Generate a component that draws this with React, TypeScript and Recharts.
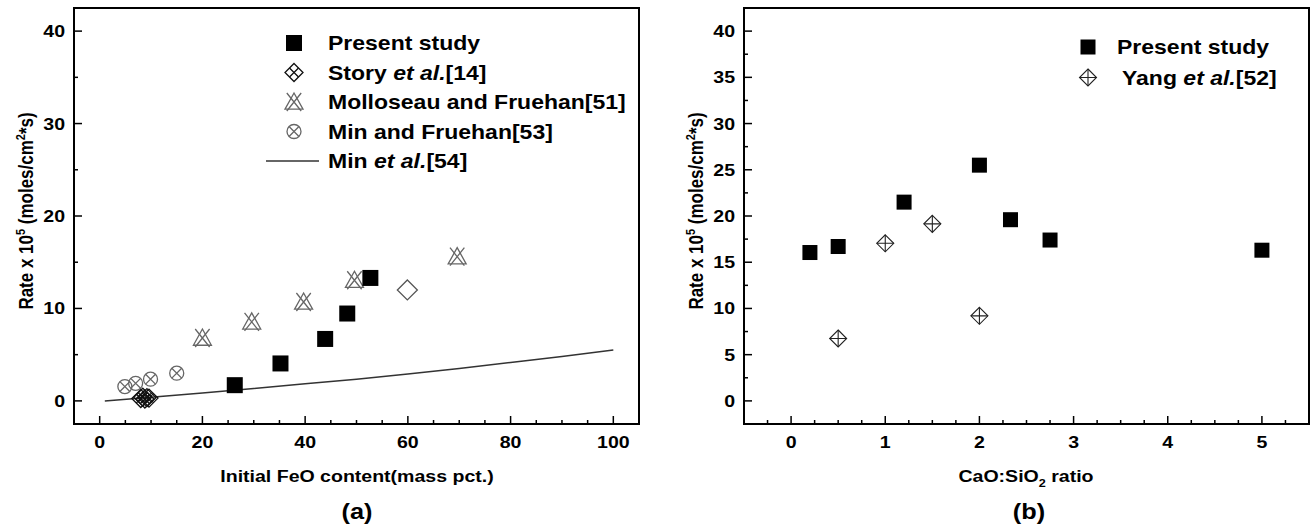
import { ReferenceArea, Scatter, ScatterChart, XAxis, YAxis } from 'recharts'

const FONT = '"Liberation Sans", Arial, Helvetica, sans-serif'

// (a) rate vs initial FeO content
const presentFeO = [26.3, 35.2, 43.9, 48.2, 52.7]
const presentRateA = [1.7, 4.05, 6.7, 9.45, 13.3]
const storyFeO = [8, 8.4, 8.8, 9.2, 9.6]
const storyRate = [0.25, 0.4, 0.2, 0.35, 0.3]
const molloseauFeO = [20, 29.6, 39.7, 49.6, 69.6]
const molloseauRate = [6.8, 8.55, 10.7, 13.05, 15.6]
const minFruehanFeO = [4.9, 7, 9.9, 15]
const minFruehanRate = [1.55, 1.9, 2.35, 3.0]
const openDiamondFeO = [59.9]
const openDiamondRate = [12.0]
const minLineFeO = [1, 10, 20, 30, 40, 50, 60, 70, 80, 90, 100]
const minLineRate = [0, 0.4, 0.85, 1.35, 1.85, 2.35, 2.9, 3.5, 4.15, 4.8, 5.5]

// (b) rate vs CaO:SiO2 ratio
const presentRatio = [0.2, 0.5, 1.2, 2.0, 2.33, 2.75, 5.0]
const presentRateB = [16.05, 16.7, 21.5, 25.5, 19.6, 17.4, 16.3]
const yangRatio = [0.5, 1.0, 1.5, 2.0]
const yangRate = [6.75, 17.05, 19.15, 9.2]

// ticks (majors get labels)
const xTicksA = [0, 5, 10, 15, 20, 25, 30, 35, 40, 45, 50, 55, 60, 65, 70, 75, 80, 85, 90, 95, 100]
const yTicksA = [0, 5, 10, 15, 20, 25, 30, 35, 40]
const xTicksB = [-0.25, 0, 0.25, 0.5, 0.75, 1, 1.25, 1.5, 1.75, 2, 2.25, 2.5, 2.75, 3, 3.25, 3.5, 3.75, 4, 4.25, 4.5, 4.75, 5, 5.25]
const yTicksB = [0, 2.5, 5, 7.5, 10, 12.5, 15, 17.5, 20, 22.5, 25, 27.5, 30, 32.5, 35, 37.5, 40]

const pts = (xs: number[], ys: number[]) => xs.map((x, i) => ({ x, y: ys[i] }))

const Square = ({ cx, cy, s = 15 }: any) => (
  <rect x={cx - s / 2} y={cy - s / 2} width={s} height={s} fill="#000" />
)

const StoryMark = ({ cx, cy }: any) => {
  const r = 9
  return (
    <g fill="none" stroke="#111" strokeWidth={1.3}>
      <path d={`M${cx},${cy - r}L${cx + r},${cy}L${cx},${cy + r}L${cx - r},${cy}Z`} />
      <path d={`M${cx - r / 2},${cy - r / 2}L${cx + r / 2},${cy + r / 2}M${cx + r / 2},${cy - r / 2}L${cx - r / 2},${cy + r / 2}`} />
    </g>
  )
}

const MolloseauMark = ({ cx, cy }: any) => {
  const r = 9
  return (
    <g fill="none" stroke="#666" strokeWidth={1.3}>
      <path d={`M${cx},${cy - r}L${cx + r},${cy + r * 0.8}L${cx - r},${cy + r * 0.8}Z`} />
      <path d={`M${cx - r * 0.8},${cy - r}L${cx + r * 0.8},${cy + r}M${cx + r * 0.8},${cy - r}L${cx - r * 0.8},${cy + r}`} />
    </g>
  )
}

const MinFruehanMark = ({ cx, cy }: any) => {
  const r = 7
  const d = r * 0.707
  return (
    <g fill="none" stroke="#666" strokeWidth={1.3}>
      <circle cx={cx} cy={cy} r={r} />
      <path d={`M${cx - d},${cy - d}L${cx + d},${cy + d}M${cx + d},${cy - d}L${cx - d},${cy + d}`} />
    </g>
  )
}

const OpenDiamond = ({ cx, cy }: any) => {
  const r = 10
  return (
    <path d={`M${cx},${cy - r}L${cx + r},${cy}L${cx},${cy + r}L${cx - r},${cy}Z`} fill="none" stroke="#555" strokeWidth={1.3} />
  )
}

const YangMark = ({ cx, cy }: any) => {
  const r = 8.5
  return (
    <g fill="none" stroke="#222" strokeWidth={1.1}>
      <path d={`M${cx},${cy - r}L${cx + r},${cy}L${cx},${cy + r}L${cx - r},${cy}Z`} />
      <path d={`M${cx},${cy - r}L${cx},${cy + r}M${cx - r},${cy}L${cx + r},${cy}`} />
    </g>
  )
}

const makeXTick = (isMajor: (v: number) => boolean) => (p: any) => {
  const { x, y, payload } = p
  const major = isMajor(payload.value)
  return (
    <g>
      <line x1={x} x2={x} y1={y} y2={y - (major ? 8 : 4)} stroke="#000" strokeWidth={1.5} />
      {major && (
        <text transform={`translate(${x},${y + 24}) scale(1.15,1)`} textAnchor="middle"
          fontFamily={FONT} fontWeight="bold" fontSize={17} fill="#000">{payload.value}</text>
      )}
    </g>
  )
}

const makeYTick = (isMajor: (v: number) => boolean) => (p: any) => {
  const { x, y, payload } = p
  const major = isMajor(payload.value)
  return (
    <g>
      <line x1={x} x2={x + (major ? 8 : 4)} y1={y} y2={y} stroke="#000" strokeWidth={1.5} />
      {major && (
        <text transform={`translate(${x - 9},${y + 6}) scale(1.15,1)`} textAnchor="end"
          fontFamily={FONT} fontWeight="bold" fontSize={17} fill="#000">{payload.value}</text>
      )}
    </g>
  )
}

const txt = { fontFamily: FONT, fontWeight: 'bold' as const, fill: '#000' }

const LegendText = ({ x, y, children }: any) => (
  <text transform={`translate(${x},${y + 7}) scale(1.15,1)`} fontSize={20} {...txt}>{children}</text>
)

const YTitle = ({ x }: { x: number }) => (
  <text transform={`translate(${x},211) rotate(-90) scale(1,1.15)`} textAnchor="middle" fontSize={17} {...txt}>
    Rate x 10<tspan dy={-7} fontSize={11}>5</tspan>
    <tspan dy={7}> (moles/cm</tspan>
    <tspan dy={-7} fontSize={11}>2</tspan>
    <tspan dy={7}>*s)</tspan>
  </text>
)

export default function App() {
  return (
    <div style={{ position: 'absolute', left: 0, top: 0, width: 1315, height: 527, background: '#fff' }}>
      <div style={{ position: 'absolute', left: 0, top: 0 }}>
        <ScatterChart width={650} height={527} margin={{ top: 8, right: 11, bottom: 73, left: 0 }}>
          <ReferenceArea x1={-5} x2={105} y1={-2.5} y2={42.5} fill="none" stroke="#000" strokeWidth={2} />
          <XAxis type="number" dataKey="x" domain={[-5, 105]} ticks={xTicksA} interval={0} height={30}
            axisLine={false} tickLine={false} tickSize={0} tickMargin={0}
            tick={makeXTick((v) => v % 20 === 0)} />
          <YAxis type="number" dataKey="y" domain={[-2.5, 42.5]} ticks={yTicksA} interval={0} width={74}
            axisLine={false} tickLine={false} tickSize={0} tickMargin={0}
            tick={makeYTick((v) => v % 10 === 0)} />
          <Scatter data={pts(minLineFeO, minLineRate)} line={{ stroke: '#333', strokeWidth: 1.5 }}
            shape={() => <g />} isAnimationActive={false} />
          <Scatter data={pts(minFruehanFeO, minFruehanRate)} shape={(p: any) => <MinFruehanMark cx={p.cx} cy={p.cy} />} isAnimationActive={false} />
          <Scatter data={pts(molloseauFeO, molloseauRate)} shape={(p: any) => <MolloseauMark cx={p.cx} cy={p.cy} />} isAnimationActive={false} />
          <Scatter data={pts(openDiamondFeO, openDiamondRate)} shape={(p: any) => <OpenDiamond cx={p.cx} cy={p.cy} />} isAnimationActive={false} />
          <Scatter data={pts(storyFeO, storyRate)} shape={(p: any) => <StoryMark cx={p.cx} cy={p.cy} />} isAnimationActive={false} />
          <Scatter data={pts(presentFeO, presentRateA)} shape={(p: any) => <Square cx={p.cx} cy={p.cy} s={16} />} isAnimationActive={false} />
        </ScatterChart>
      </div>
      <div style={{ position: 'absolute', left: 670, top: 0 }}>
        <ScatterChart width={645} height={527} margin={{ top: 8, right: 6, bottom: 73, left: 0 }}>
          <ReferenceArea x1={-0.5} x2={5.5} y1={-2.5} y2={42.5} fill="none" stroke="#000" strokeWidth={2} />
          <XAxis type="number" dataKey="x" domain={[-0.5, 5.5]} ticks={xTicksB} interval={0} height={30}
            axisLine={false} tickLine={false} tickSize={0} tickMargin={0}
            tick={makeXTick((v) => Number.isInteger(v))} />
          <YAxis type="number" dataKey="y" domain={[-2.5, 42.5]} ticks={yTicksB} interval={0} width={74}
            axisLine={false} tickLine={false} tickSize={0} tickMargin={0}
            tick={makeYTick((v) => v % 5 === 0)} />
          <Scatter data={pts(yangRatio, yangRate)} shape={(p: any) => <YangMark cx={p.cx} cy={p.cy} />} isAnimationActive={false} />
          <Scatter data={pts(presentRatio, presentRateB)} shape={(p: any) => <Square cx={p.cx} cy={p.cy} s={15} />} isAnimationActive={false} />
        </ScatterChart>
      </div>
      <svg width={1315} height={527} style={{ position: 'absolute', left: 0, top: 0, pointerEvents: 'none' }}>
        {/* legend (a) */}
        <Square cx={294} cy={43} s={16} />
        <StoryMark cx={294} cy={72.5} />
        <MolloseauMark cx={294} cy={102} />
        <MinFruehanMark cx={294} cy={131.5} />
        <line x1={266} x2={319} y1={161} y2={161} stroke="#333" strokeWidth={1.5} />
        <LegendText x={328} y={43}>Present study</LegendText>
        <LegendText x={328} y={72.5}>Story <tspan fontStyle="italic">et al.</tspan>[14]</LegendText>
        <LegendText x={328} y={102}>Molloseau and Fruehan[51]</LegendText>
        <LegendText x={328} y={131.5}>Min and Fruehan[53]</LegendText>
        <LegendText x={328} y={161}>Min <tspan fontStyle="italic">et al.</tspan>[54]</LegendText>

        {/* legend (b) */}
        <Square cx={1088} cy={47} s={15} />
        <YangMark cx={1088} cy={77.5} />
        <LegendText x={1117} y={47}>Present study</LegendText>
        <LegendText x={1122} y={77.5}>Yang <tspan fontStyle="italic">et al.</tspan>[52]</LegendText>

        {/* axis titles */}
        <YTitle x={33} />
        <YTitle x={703} />
        <text transform="translate(357,482) scale(1.15,1)" textAnchor="middle" fontSize={17} {...txt}>
          Initial FeO content(mass pct.)
        </text>
        <text transform="translate(1026,482) scale(1.15,1)" textAnchor="middle" fontSize={17} {...txt}>
          CaO:SiO<tspan dy={5} fontSize={11}>2</tspan><tspan dy={-5}> ratio</tspan>
        </text>
        <text transform="translate(357,519) scale(1.15,1)" textAnchor="middle" fontSize={22} {...txt}>(a)</text>
        <text transform="translate(1029,519) scale(1.15,1)" textAnchor="middle" fontSize={22} {...txt}>(b)</text>
      </svg>
    </div>
  )
}
